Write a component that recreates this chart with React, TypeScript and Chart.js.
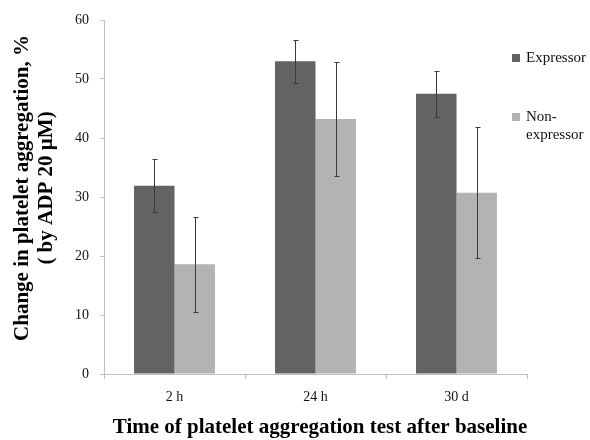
import React, { useEffect, useRef } from "react";
import { Chart, registerables } from "chart.js";

Chart.register(...registerables);

const categories = ["2 h", "24 h", "30 d"];
const seriesNames = ["Expressor", "Non-expressor"];
const expressor = [31.9, 53.0, 47.5];
const expressorLow = [27.4, 49.3, 43.6];
const expressorHigh = [36.4, 56.6, 51.4];
const nonExpressor = [18.6, 43.2, 30.7];
const nonExpressorLow = [10.5, 33.6, 19.7];
const nonExpressorHigh = [26.6, 52.9, 41.9];
const legendLines = [["Expressor"], ["Non-", "expressor"]];
const yTitle = ["Change in platelet aggregation, %", "( by ADP 20 µM)"];
const xTitle = "Time of platelet aggregation test after baseline";

const DARK = "#636363";
const LIGHT = "#b3b3b3";
const AXIS = "#bfbfbf";
const SERIF = "'Liberation Serif', 'Times New Roman', serif";

const errorBars = {
  id: "errorBars",
  afterDatasetsDraw(chart: any) {
    const ctx = chart.ctx;
    const y = chart.scales.y;
    const lows = [expressorLow, nonExpressorLow];
    const highs = [expressorHigh, nonExpressorHigh];
    ctx.save();
    ctx.strokeStyle = "#3a3a3a";
    ctx.lineWidth = 1;
    chart.data.datasets.forEach((ds: any, di: number) => {
      const meta = chart.getDatasetMeta(di);
      meta.data.forEach((bar: any, i: number) => {
        const x = Math.round(bar.x) + 0.5;
        const yl = Math.round(y.getPixelForValue(lows[di][i])) + 0.5;
        const yh = Math.round(y.getPixelForValue(highs[di][i])) + 0.5;
        ctx.beginPath();
        ctx.moveTo(x, yl);
        ctx.lineTo(x, yh);
        ctx.moveTo(x - 2, yl);
        ctx.lineTo(x + 3, yl);
        ctx.moveTo(x - 2, yh);
        ctx.lineTo(x + 3, yh);
        ctx.stroke();
      });
    });
    ctx.restore();
  },
};

const customLegendAndTitles = {
  id: "customLegendAndTitles",
  afterDraw(chart: any) {
    const ctx = chart.ctx;
    const colors = [DARK, LIGHT];
    const tops = [58, 117];
    ctx.save();
    ctx.font = "15px " + SERIF;
    ctx.textBaseline = "middle";
    legendLines.forEach((lines, i) => {
      ctx.fillStyle = colors[i];
      ctx.fillRect(512, tops[i] - 4, 8, 8);
      ctx.fillStyle = "#111";
      lines.forEach((t, j) => {
        ctx.fillText(t, 526, tops[i] + j * 18);
      });
    });

    // axis titles
    ctx.fillStyle = "#000";
    ctx.font = "bold 21px " + SERIF;
    ctx.textAlign = "center";
    ctx.textBaseline = "middle";
    ctx.fillText(xTitle, 320, 428);

    const cy = 188;
    const xs = [23, 47];
    yTitle.forEach((t, i) => {
      ctx.save();
      ctx.translate(xs[i], cy);
      ctx.rotate(-Math.PI / 2);
      ctx.fillText(t, 0, 0);
      ctx.restore();
    });
    ctx.restore();
  },
};

export default function App() {
  const ref = useRef<HTMLCanvasElement>(null);
  useEffect(() => {
    if (!ref.current) return;
    const chart = new Chart(ref.current, {
      type: "bar",
      data: {
        labels: categories,
        datasets: [
          { label: seriesNames[0], data: expressor, backgroundColor: DARK },
          { label: seriesNames[1], data: nonExpressor, backgroundColor: LIGHT },
        ],
      },
      options: {
        animation: false,
        responsive: true,
        maintainAspectRatio: false,
        layout: { padding: { top: 20, right: 63, left: 0, bottom: 0 } },
        datasets: { bar: { categoryPercentage: 0.574, barPercentage: 1 } },
        plugins: { legend: { display: false }, tooltip: { enabled: false } },
        scales: {
          x: {
            offset: true,
            grid: { offset: true, drawOnChartArea: false, drawTicks: true, tickLength: 5, color: AXIS },
            border: { color: AXIS },
            ticks: { color: "#111", font: { family: SERIF, size: 14 }, padding: 10 },
            afterFit: (s: any) => {
              s.height = 66;
            },
          },
          y: {
            min: 0,
            max: 60,
            ticks: { stepSize: 10, color: "#111", font: { family: SERIF, size: 14 }, padding: 11 },
            grid: { drawOnChartArea: false, drawTicks: true, tickLength: 4, color: AXIS },
            border: { color: AXIS },
            afterFit: (s: any) => {
              s.width = 104;
            },
          },
        },
      },
      plugins: [errorBars, customLegendAndTitles],
    });
    return () => chart.destroy();
  }, []);
  return (
    <div style={{ position: "absolute", left: 0, top: 0, width: 590, height: 440, background: "#fff" }}>
      <canvas ref={ref} />
    </div>
  );
}
